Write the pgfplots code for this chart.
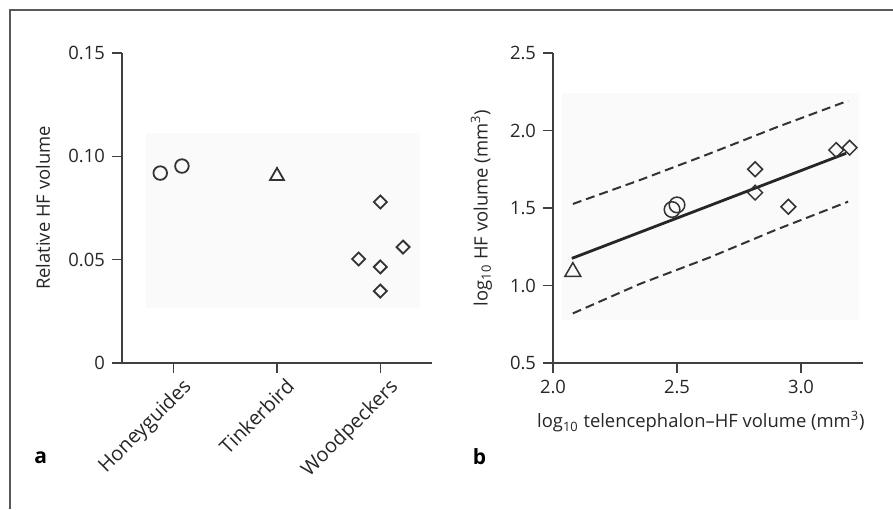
\documentclass[border=0pt]{standalone}
\usepackage{pgfplots}
\pgfplotsset{compat=1.18}
\usepackage{fontspec}
\setmainfont{Open Sans}
\begin{document}
\begin{tikzpicture}
\useasboundingbox (0,0) rectangle (446.5pt,254.5pt);
\draw[black!65, line width=1pt] (5pt,0) -- (5pt,249.5pt) -- (446.5pt,249.5pt);
\pgfplotsset{
 myaxis/.style={
  scale only axis, width=155pt, height=155pt,
  axis lines=left, axis line style={-, black!75, line width=0.6pt},
  tick align=outside, tick style={black!75, line width=0.6pt},
  major tick length=5pt,
  tick label style={font=\fontsize{9.2}{10}\selectfont, text=black!85},
  label style={font=\fontsize{9.2}{10}\selectfont, text=black!85},
  /pgf/number format/assume math mode=true,
  clip=false,
 }
}
\begin{axis}[myaxis, at={(61pt,73pt)}, anchor=south west,
 xmin=-0.5, xmax=2.5, ymin=0, ymax=0.15,
 xtick={0,1,2}, xticklabels={Honeyguides,Tinkerbird,Woodpeckers},
 ytick={0,0.05,0.1,0.15}, yticklabels={0,0.05,0.10,0.15},
 xticklabel style={rotate=45, anchor=north east, inner sep=1pt, xshift=2.5pt, yshift=-3pt, font=\fontsize{10}{11}\selectfont},
 ylabel={Relative HF volume},
 ylabel style={at={(axis description cs:-0.255,0.5)}, anchor=center},
]
\addplot[fill=black!2, draw=none] coordinates {(-0.27,0.0266) (2.38,0.0266) (2.38,0.1113) (-0.27,0.1113)} -- cycle;
\addplot[only marks, mark=o, mark size=3.4pt, line width=0.9pt, black!80] coordinates {(-0.13,0.0919) (0.08,0.0953)};
\addplot[only marks, mark=triangle, mark size=4pt, line width=0.9pt, black!80] coordinates {(1,0.0905)};
\addplot[only marks, mark=square, mark size=2.3pt, line width=0.9pt, black!80, mark options={rotate=45}] coordinates {(2,0.0779) (1.79,0.0503) (2,0.0465) (2,0.0348) (2.22,0.0561)};
\end{axis}
\begin{axis}[myaxis, at={(276.5pt,73pt)}, anchor=south west,
 xmin=2, xmax=3.25, ymin=0.5, ymax=2.5,
 xtick={2,2.5,3}, xticklabels={2.0,2.5,3.0},
 ytick={0.5,1,1.5,2,2.5}, yticklabels={0.5,1.0,1.5,2.0,2.5},
 xlabel={log\textsubscript{10} telencephalon–HF volume (mm\textsuperscript{3})},
 ylabel={log\textsubscript{10} HF volume (mm\textsuperscript{3})},
 xlabel style={at={(axis description cs:0.477,-0.189)}, anchor=center},
 ylabel style={at={(axis description cs:-0.231,0.5)}, anchor=center},
]
\addplot[fill=black!2, draw=none] coordinates {(2.036,0.777) (3.235,0.777) (3.235,2.242) (2.036,2.242)} -- cycle;
\addplot[black!80, line width=1pt, dash pattern=on 4.5pt off 2.5pt] coordinates {(2.08,1.526) (2.35,1.68) (2.63,1.85) (2.9,2.02) (3.19,2.192)};
\addplot[black!80, line width=1pt, dash pattern=on 4.5pt off 2.5pt] coordinates {(2.08,0.82) (2.35,1.01) (2.63,1.18) (2.9,1.36) (3.19,1.541)};
\addplot[black!85, line width=1.4pt] coordinates {(2.076,1.175) (3.182,1.853)};
\addplot[only marks, mark=o, mark size=3.9pt, line width=0.75pt, black!80] coordinates {(2.48,1.49) (2.50,1.52)};
\addplot[only marks, mark=triangle, mark size=4.6pt, line width=0.75pt, black!80] coordinates {(2.08,1.088)};
\addplot[only marks, mark=square, mark size=2.6pt, line width=0.75pt, black!80, mark options={rotate=45}] coordinates {(2.815,1.75) (2.815,1.599) (2.949,1.508) (3.142,1.874) (3.196,1.889)};
\end{axis}
\node[font=\bfseries\fontsize{10.5}{12}\selectfont] at (20.3pt,25.5pt) {a};
\node[font=\bfseries\fontsize{10.5}{12}\selectfont] at (239.7pt,26.2pt) {b};
\end{tikzpicture}
\end{document}
